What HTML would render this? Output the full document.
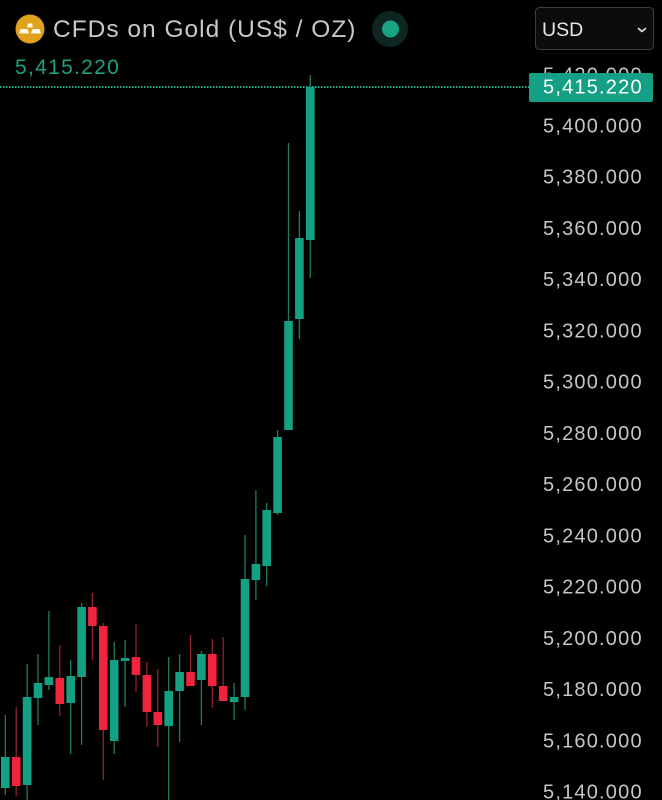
<!DOCTYPE html>
<html>
<head>
<meta charset="utf-8">
<style>
html,body{margin:0;padding:0;background:#000;}
body{width:662px;height:800px;overflow:hidden;}
svg{display:block;}
text{font-family:"Liberation Sans",sans-serif;}
</style>
</head>
<body>
<svg width="662" height="800" viewBox="0 0 662 800" xmlns="http://www.w3.org/2000/svg">
<rect width="662" height="800" fill="#000"/>

<!-- Y axis labels -->
<g fill="#c6c6c6" font-size="20" letter-spacing="1.2">
<text x="543" y="81.3">5,420.000</text>
<text x="543" y="132.5">5,400.000</text>
<text x="543" y="183.7">5,380.000</text>
<text x="543" y="235.0">5,360.000</text>
<text x="543" y="286.2">5,340.000</text>
<text x="543" y="337.4">5,320.000</text>
<text x="543" y="388.7">5,300.000</text>
<text x="543" y="439.9">5,280.000</text>
<text x="543" y="491.1">5,260.000</text>
<text x="543" y="542.3">5,240.000</text>
<text x="543" y="593.6">5,220.000</text>
<text x="543" y="644.8">5,200.000</text>
<text x="543" y="696.0">5,180.000</text>
<text x="543" y="747.3">5,160.000</text>
<text x="543" y="798.5">5,140.000</text>
</g>

<!-- dotted current price line -->
<line x1="0" y1="87" x2="529" y2="87" stroke="#22b08f" stroke-width="2" stroke-dasharray="1.5,1.5"/>

<!-- price label box -->
<rect x="529" y="73" width="124" height="29" rx="2" fill="#15a085"/>
<text x="543" y="93.5" fill="#ffffff" font-size="20" letter-spacing="1.2">5,415.220</text>

<!-- candles -->
<g id="candles">
<g stroke-width="1.3">
<line x1="5.3" y1="715" x2="5.3" y2="795" stroke="#1e7a60"/>
<line x1="16.2" y1="707" x2="16.2" y2="796" stroke="#8e2231"/>
<line x1="27.1" y1="664" x2="27.1" y2="800" stroke="#1e7a60"/>
<line x1="38.0" y1="654" x2="38.0" y2="725" stroke="#1e7a60"/>
<line x1="48.9" y1="611" x2="48.9" y2="690" stroke="#1e7a60"/>
<line x1="59.8" y1="645" x2="59.8" y2="716" stroke="#8e2231"/>
<line x1="70.7" y1="660" x2="70.7" y2="754" stroke="#1e7a60"/>
<line x1="81.6" y1="603" x2="81.6" y2="745" stroke="#1e7a60"/>
<line x1="92.4" y1="593" x2="92.4" y2="660" stroke="#8e2231"/>
<line x1="103.3" y1="623" x2="103.3" y2="780" stroke="#8e2231"/>
<line x1="114.2" y1="642" x2="114.2" y2="754" stroke="#1e7a60"/>
<line x1="125.1" y1="640" x2="125.1" y2="707" stroke="#1e7a60"/>
<line x1="136.0" y1="624" x2="136.0" y2="692" stroke="#8e2231"/>
<line x1="146.9" y1="662" x2="146.9" y2="727" stroke="#8e2231"/>
<line x1="157.8" y1="669" x2="157.8" y2="747" stroke="#8e2231"/>
<line x1="168.7" y1="657" x2="168.7" y2="800" stroke="#1e7a60"/>
<line x1="179.6" y1="654" x2="179.6" y2="742" stroke="#1e7a60"/>
<line x1="190.5" y1="635" x2="190.5" y2="686" stroke="#8e2231"/>
<line x1="201.4" y1="651" x2="201.4" y2="725" stroke="#1e7a60"/>
<line x1="212.3" y1="639" x2="212.3" y2="708" stroke="#8e2231"/>
<line x1="223.2" y1="637" x2="223.2" y2="701" stroke="#8e2231"/>
<line x1="234.1" y1="683" x2="234.1" y2="720" stroke="#1e7a60"/>
<line x1="245.0" y1="535" x2="245.0" y2="710" stroke="#1e7a60"/>
<line x1="255.9" y1="490" x2="255.9" y2="600" stroke="#1e7a60"/>
<line x1="266.7" y1="503" x2="266.7" y2="586" stroke="#1e7a60"/>
<line x1="277.6" y1="430" x2="277.6" y2="515" stroke="#1e7a60"/>
<line x1="288.5" y1="143" x2="288.5" y2="430" stroke="#1e7a60"/>
<line x1="299.4" y1="211" x2="299.4" y2="339" stroke="#1e7a60"/>
<line x1="310.3" y1="75" x2="310.3" y2="278" stroke="#1e7a60"/>
</g>
<g>
<rect x="1.0" y="757" width="8.6" height="31" fill="#14a083"/>
<rect x="11.9" y="757" width="8.6" height="29" fill="#f0243c"/>
<rect x="22.8" y="697" width="8.6" height="88" fill="#14a083"/>
<rect x="33.7" y="683" width="8.6" height="15" fill="#14a083"/>
<rect x="44.6" y="677" width="8.6" height="8" fill="#14a083"/>
<rect x="55.5" y="678" width="8.6" height="26" fill="#f0243c"/>
<rect x="66.4" y="676" width="8.6" height="27" fill="#14a083"/>
<rect x="77.3" y="607" width="8.6" height="70" fill="#14a083"/>
<rect x="88.1" y="607" width="8.6" height="19" fill="#f0243c"/>
<rect x="99.0" y="626" width="8.6" height="104" fill="#f0243c"/>
<rect x="109.9" y="660" width="8.6" height="81" fill="#14a083"/>
<rect x="120.8" y="658" width="8.6" height="3" fill="#14a083"/>
<rect x="131.7" y="657" width="8.6" height="18" fill="#f0243c"/>
<rect x="142.6" y="675" width="8.6" height="37" fill="#f0243c"/>
<rect x="153.5" y="712" width="8.6" height="13" fill="#f0243c"/>
<rect x="164.4" y="691" width="8.6" height="35" fill="#14a083"/>
<rect x="175.3" y="672" width="8.6" height="19" fill="#14a083"/>
<rect x="186.2" y="672" width="8.6" height="14" fill="#f0243c"/>
<rect x="197.1" y="654" width="8.6" height="26" fill="#14a083"/>
<rect x="208.0" y="654" width="8.6" height="32" fill="#f0243c"/>
<rect x="218.9" y="686" width="8.6" height="15" fill="#f0243c"/>
<rect x="229.8" y="697" width="8.6" height="5" fill="#14a083"/>
<rect x="240.7" y="579" width="8.6" height="118" fill="#14a083"/>
<rect x="251.6" y="564" width="8.6" height="16" fill="#14a083"/>
<rect x="262.4" y="510" width="8.6" height="56" fill="#14a083"/>
<rect x="273.3" y="437" width="8.6" height="76" fill="#14a083"/>
<rect x="284.2" y="321" width="8.6" height="109" fill="#14a083"/>
<rect x="295.1" y="238" width="8.6" height="81" fill="#14a083"/>
<rect x="306.0" y="87" width="8.6" height="153" fill="#14a083"/>
</g>
</g>

<!-- header -->
<circle cx="30" cy="29" r="14.5" fill="#e0a11d"/>
<polygon points="27,27.5 28,23.5 32,23.5 33,27.5" fill="#fff8e8"/>
<polygon points="19,33.5 20.5,29 27.5,29 29,33.5" fill="#fff8e8"/>
<polygon points="31,33.5 32.5,29 39.5,29 41,33.5" fill="#fff8e8"/>

<text x="53" y="37" fill="#c9c9c9" font-size="24.5" letter-spacing="1.0">CFDs on Gold (US$ / OZ)</text>

<circle cx="390" cy="29" r="18" fill="#0e2622"/>
<circle cx="390.5" cy="29" r="8.5" fill="#18a384"/>

<text x="15" y="74" fill="#1f9e82" font-size="21" letter-spacing="1.3">5,415.220</text>

<!-- USD dropdown -->
<rect x="535.5" y="7.5" width="118" height="42" rx="4" fill="#0c0c0c" stroke="#3e3e3e" stroke-width="1"/>
<text x="542" y="36" fill="#e6e6e6" font-size="19.5">USD</text>
<polyline points="638.5,28.5 642,31.5 645.5,28.5" fill="none" stroke="#e6e6e6" stroke-width="1.6" stroke-linecap="round" stroke-linejoin="round"/>
</svg>
</body>
</html>
